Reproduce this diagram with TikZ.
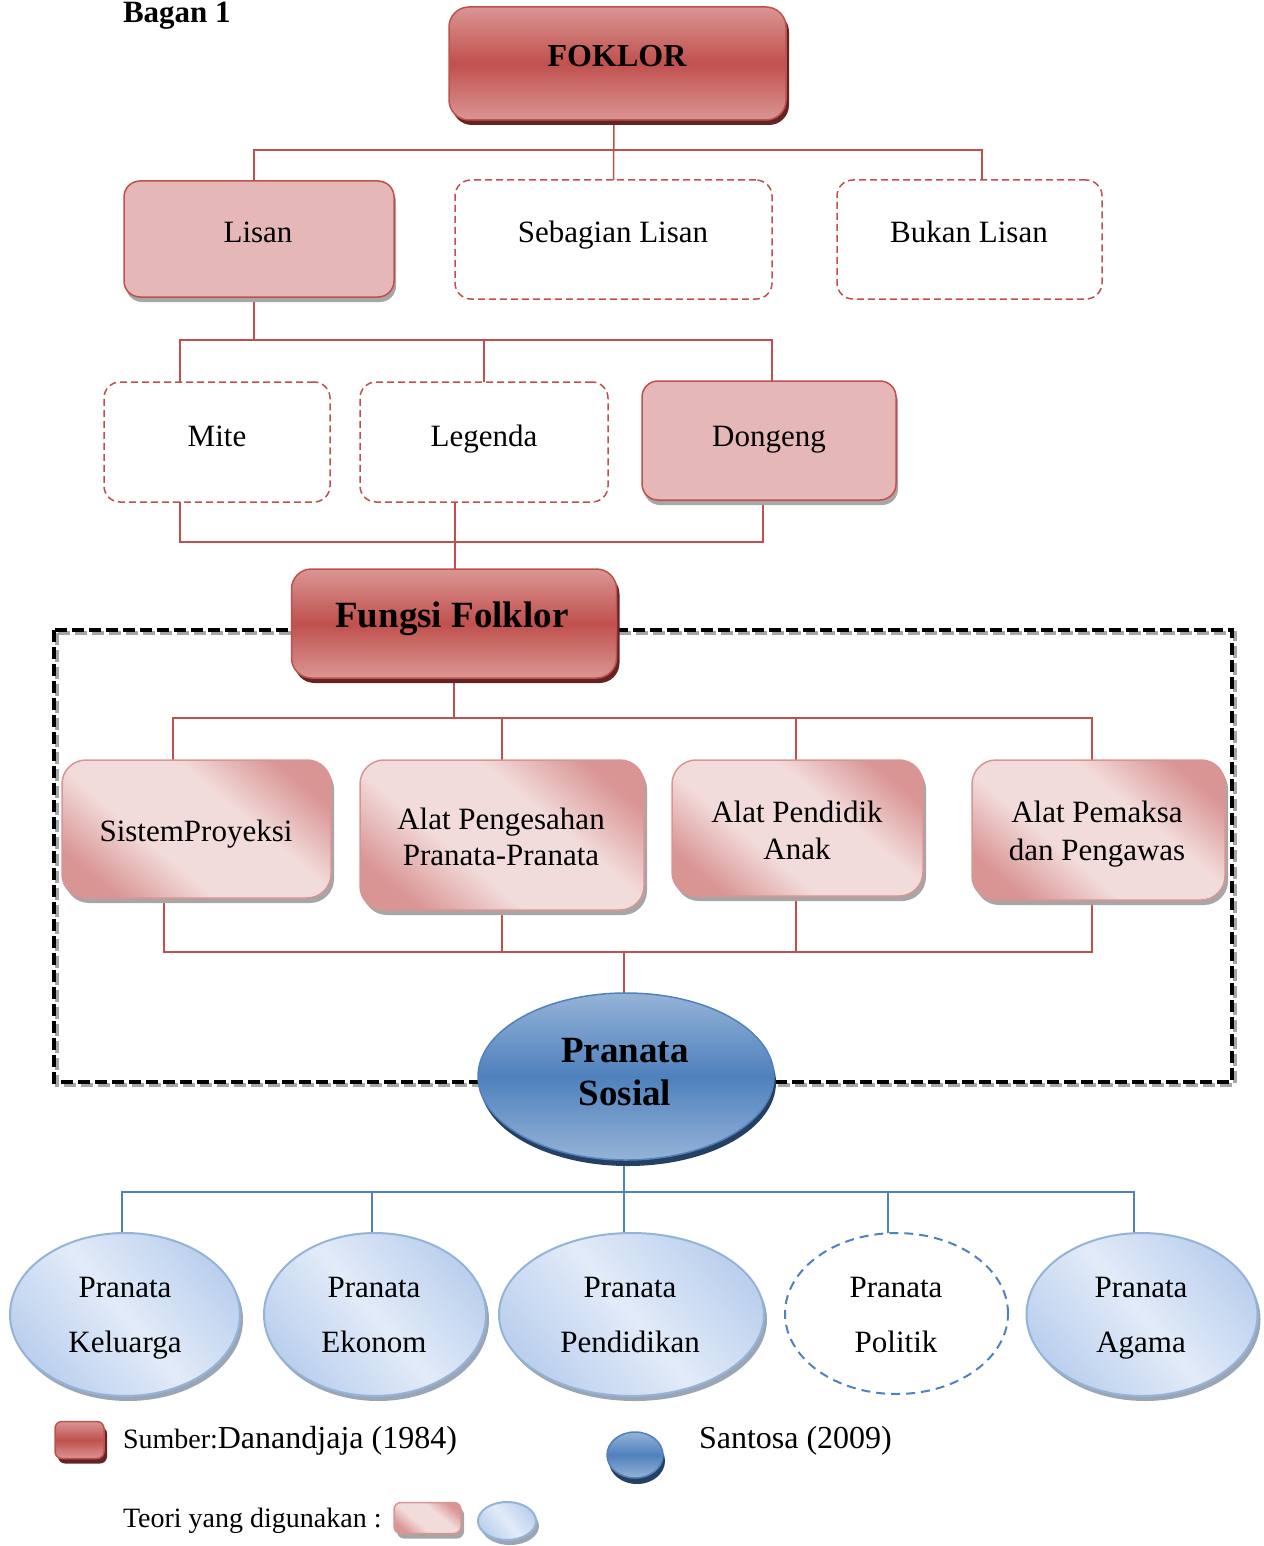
\documentclass[tikz,border=0pt]{standalone}
\usepackage{fontspec}
\setmainfont{Liberation Serif}
\usetikzlibrary{shapes.geometric,shadows,backgrounds}
\definecolor{rdark}{HTML}{C0504D}
\definecolor{rlight}{HTML}{DA9694}
\definecolor{rshadow}{HTML}{632523}
\definecolor{rfill}{HTML}{E5B8B7}
\definecolor{pinkL}{HTML}{F2DCDB}
\definecolor{pinkD}{HTML}{D99594}
\definecolor{gshadow}{HTML}{A6A6A6}
\definecolor{bdark}{HTML}{4F81BD}
\definecolor{blight}{HTML}{95B3D7}
\definecolor{bshadow}{HTML}{254061}
\definecolor{lbA}{HTML}{E2EBF8}
\definecolor{lbB}{HTML}{BBD0EE}
\definecolor{lbshadow}{HTML}{9AA6B6}
\pgfdeclareverticalshading{pinksh}{100bp}{color(0bp)=(pinkD); color(24bp)=(pinkD); color(40bp)=(pinkL); color(60bp)=(pinkL); color(76bp)=(pinkD); color(100bp)=(pinkD)}
\begin{document}
\begin{tikzpicture}[x=1pt,y=-1pt,
  every node/.style={inner sep=0pt, outer sep=0pt},
  body/.style={font=\fontsize{31}{36}\selectfont, anchor=base},
  redbox/.style={rectangle, rounded corners=20pt, draw=rdark, line width=1.5pt,
    top color=rlight, bottom color=rlight, middle color=rdark,
    drop shadow={shadow xshift=3pt, shadow yshift=-5pt, fill=rshadow, opacity=1}},
  solidbox/.style={rectangle, rounded corners=16pt, draw=rdark, line width=1.5pt, fill=rfill,
    drop shadow={shadow xshift=2pt, shadow yshift=-5pt, fill=gshadow, opacity=1}},
  dashbox/.style={rectangle, rounded corners=16pt, draw=rdark, line width=1.5pt, dash pattern=on 7pt off 4pt},
  pinkbox/.style={rectangle, rounded corners=24pt, draw=pinkD, line width=1.5pt,
    shading=pinksh, shading angle=-40,
    drop shadow={shadow xshift=3pt, shadow yshift=-5pt, fill=gshadow, opacity=1}},
  bigell/.style={ellipse, draw=bdark, line width=1.5pt,
    top color=blight, bottom color=blight, middle color=bdark,
    drop shadow={shadow xshift=2pt, shadow yshift=-6pt, fill=bshadow, opacity=1}},
  lbell/.style={ellipse, draw=blight, line width=2pt,
    top color=lbB, bottom color=lbB, middle color=lbA, shading angle=-50,
    drop shadow={shadow xshift=3pt, shadow yshift=-5pt, fill=lbshadow, opacity=1}},
  dashell/.style={ellipse, draw=bdark, line width=2pt, dash pattern=on 9pt off 6pt},
  rline/.style={draw=rdark, line width=1.5pt},
  bline/.style={draw=bdark, line width=1.5pt}
]
\useasboundingbox (0,0) rectangle (1263,1546);

% title
\node[font=\fontsize{31}{36}\selectfont\bfseries, anchor=base west] (title) at (123,23) {Bagan 1};

% level 0
\node[redbox, minimum width=337pt, minimum height=113pt] (foklor) at (617.5,63.5) {};
\node[font=\fontsize{32}{36}\selectfont\bfseries, anchor=base] (tfoklor) at (617,67) {FOKLOR};

% level 1
\node[solidbox, minimum width=270pt, minimum height=116pt] (lisan) at (259,239) {};
\node[dashbox, minimum width=317pt, minimum height=119pt] (sebagian) at (613.5,239.5) {};
\node[dashbox, minimum width=265pt, minimum height=119pt] (bukan) at (969.5,239.5) {};
\node[body] (tlisan) at (258,243) {Lisan};
\node[body] (tsebagian) at (613,243) {Sebagian Lisan};
\node[body] (tbukan) at (969,243) {Bukan Lisan};

% level 2
\node[dashbox, minimum width=226pt, minimum height=120pt] (mite) at (217,442) {};
\node[dashbox, minimum width=248pt, minimum height=120pt] (legenda) at (484,442) {};
\node[solidbox, minimum width=254pt, minimum height=119pt] (dongeng) at (769,440.5) {};
\node[body] (tmite) at (217,446) {Mite};
\node[body] (tlegenda) at (484,446) {Legenda};
\node[body] (tdongeng) at (769,446) {Dongeng};

% big dashed frame
\begin{scope}[on background layer]
\draw[gshadow, line width=4pt, dash pattern=on 12pt off 5pt] (57,633) rectangle (1235,1085);
\draw[black, line width=4pt, dash pattern=on 12pt off 5pt] (54,630) rectangle (1232,1082);
\end{scope}

% fungsi
\node[redbox, minimum width=325pt, minimum height=109pt] (fungsi) at (454,623.5) {};
\node[font=\fontsize{37}{40}\selectfont\bfseries, anchor=base] (tfungsi) at (452,627) {Fungsi Folklor};

% level 3 pink
\node[pinkbox, minimum width=269pt, minimum height=138pt] (sistem) at (196.5,829) {};
\node[pinkbox, minimum width=284pt, minimum height=150pt] (pengesahan) at (502,835) {};
\node[pinkbox, minimum width=251pt, minimum height=136pt] (pendidik) at (797.5,828) {};
\node[pinkbox, minimum width=253pt, minimum height=140pt] (pemaksa) at (1098.5,830) {};
\node[body] (tsistem) at (196,841) {SistemProyeksi};
\node[body] (tpeng1) at (501,829) {Alat Pengesahan};
\node[body] (tpeng2) at (501,865) {Pranata-Pranata};
\node[body] (tpend1) at (797,822) {Alat Pendidik};
\node[body] (tpend2) at (797,859) {Anak};
\node[body] (tpem1) at (1097,822) {Alat Pemaksa};
\node[body] (tpem2) at (1097,860) {dan Pengawas};

% pranata sosial
\node[bigell, minimum width=296pt, minimum height=167pt] (sosial) at (626,1076.5) {};
\node[font=\fontsize{37}{40}\selectfont\bfseries, anchor=base] (tsos1) at (625,1062) {Pranata};
\node[font=\fontsize{37}{40}\selectfont\bfseries, anchor=base] (tsos2) at (625,1105) {Sosial};

% bottom ellipses
\node[lbell, minimum width=230pt, minimum height=163pt] (keluarga) at (125,1314.5) {};
\node[lbell, minimum width=222pt, minimum height=163pt] (ekonom) at (375,1314.5) {};
\node[lbell, minimum width=265pt, minimum height=163pt] (pendidikan) at (631.5,1314.5) {};
\node[dashell, minimum width=223pt, minimum height=161pt] (politik) at (896.5,1313.5) {};
\node[lbell, minimum width=231pt, minimum height=163pt] (agama) at (1142,1314.5) {};
\node[body] (tk1) at (125,1297) {Pranata};
\node[body] (tk2) at (125,1352) {Keluarga};
\node[body] (te1) at (374,1297) {Pranata};
\node[body] (te2) at (374,1352) {Ekonom};
\node[body] (tpd1) at (630,1297) {Pranata};
\node[body] (tpd2) at (630,1352) {Pendidikan};
\node[body] (tpo1) at (896,1297) {Pranata};
\node[body] (tpo2) at (896,1352) {Politik};
\node[body] (ta1) at (1141,1297) {Pranata};
\node[body] (ta2) at (1141,1352) {Agama};

% legend
\node[redbox, rounded corners=7pt, minimum width=49pt, minimum height=37pt] (legred) at (79.5,1440) {};
\node[font=\fontsize{32}{36}\selectfont, anchor=base west] (tsumber) at (123,1448) {{\fontsize{28}{32}\selectfont Sumber:}Danandjaja (1984)};
\node[bigell, minimum width=56pt, minimum height=46pt] (legblue) at (635,1455) {};
\node[font=\fontsize{32}{36}\selectfont, anchor=base west] (tsantosa) at (699,1448) {Santosa (2009)};
\node[font=\fontsize{28}{32}\selectfont, anchor=base west] (tteori) at (123,1527) {Teori yang digunakan :};
\node[pinkbox, rounded corners=7pt, minimum width=67pt, minimum height=31pt] (legpink) at (427.5,1518) {};
\node[lbell, minimum width=58pt, minimum height=38pt] (leglb) at (507,1521) {};

% connectors
\begin{scope}[on background layer]
\coordinate (bus1R) at (982,150);
\draw[rline] ([xshift=-5pt]lisan.north) |- (bus1R) -- ([xshift=12.5pt]bukan.north);
\draw[rline] ([xshift=-3.5pt]foklor.south) -- (sebagian.north);

\coordinate (bus2R) at (772,340);
\draw[rline] ([xshift=-37pt]mite.north) |- (bus2R) -- ([xshift=3pt]dongeng.north);
\draw[rline] ([xshift=-5pt]lisan.south) |- (bus2R);
\draw[rline] (legenda.north) |- (bus2R);

\coordinate (bus3R) at (763,542);
\draw[rline] ([xshift=-37pt]mite.south) |- (bus3R) -- ([xshift=-6pt]dongeng.south);
\draw[rline] ([xshift=-29pt]legenda.south) -- ([xshift=1pt]fungsi.north);

\coordinate (bus4R) at (1092,718);
\draw[rline] ([xshift=-23.5pt]sistem.north) |- (bus4R) -- ([xshift=-6.5pt]pemaksa.north);
\draw[rline] (fungsi.south) |- (bus4R);
\draw[rline] (pengesahan.north) |- (bus4R);
\draw[rline] ([xshift=-1.5pt]pendidik.north) |- (bus4R);

\coordinate (bus5R) at (1092,952);
\draw[rline] ([xshift=-32.5pt]sistem.south) |- (bus5R) -- ([xshift=-6.5pt]pemaksa.south);
\draw[rline] (pengesahan.south) |- (bus5R);
\draw[rline] ([xshift=-1.5pt]pendidik.south) |- (bus5R);
\draw[rline] ([xshift=-2pt]sosial.north) |- (bus5R);

\coordinate (bus6R) at (1134,1192);
\draw[bline] ([xshift=-3pt]keluarga.north) |- (bus6R) -- ([xshift=-8pt]agama.north);
\draw[bline] ([xshift=-2pt]sosial.south) -- ([xshift=-7.5pt]pendidikan.north);
\draw[bline] ([xshift=-3pt]ekonom.north) |- (bus6R);
\draw[bline] ([xshift=-8.5pt]politik.north) |- (bus6R);
\end{scope}
\end{tikzpicture}
\end{document}
